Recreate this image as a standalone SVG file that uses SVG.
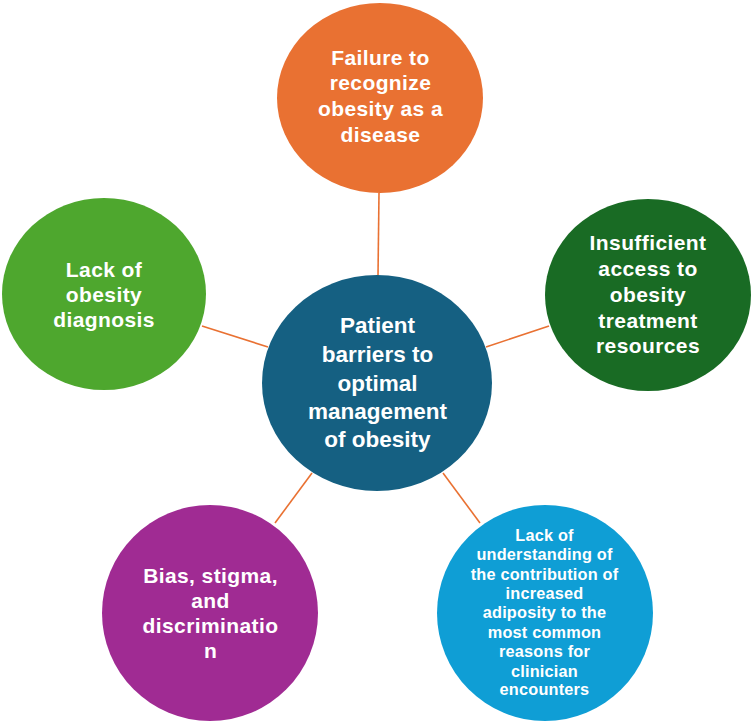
<svg xmlns="http://www.w3.org/2000/svg" width="752" height="723" viewBox="0 0 752 723">
<style>
.lbl{font-family:"Liberation Sans",Arial,sans-serif;font-weight:bold;fill:#ffffff;text-anchor:middle;font-size:21px;letter-spacing:0.4px}
.ctr{font-size:22.5px;letter-spacing:0}
.sm{font-size:16.3px;letter-spacing:0.2px}
.con{stroke:#E97132;stroke-width:1.6;fill:none}
</style>
<rect width="752" height="723" fill="#ffffff"/>
<g id="connectors">
<line class="con" x1="379" y1="193" x2="378" y2="276"/>
<line class="con" x1="202" y1="326" x2="268" y2="347"/>
<line class="con" x1="486" y1="347" x2="549" y2="326"/>
<line class="con" x1="312" y1="473" x2="275" y2="523"/>
<line class="con" x1="443" y1="473" x2="480" y2="523"/>
</g>
<g id="center">
<ellipse cx="377" cy="383" rx="115" ry="108" fill="#156082"/>
<text class="lbl ctr"><tspan x="377.5" y="333">Patient</tspan><tspan x="377.5" y="362">barriers to</tspan><tspan x="377.5" y="391">optimal</tspan><tspan x="377.5" y="419">management</tspan><tspan x="377.5" y="447">of obesity</tspan></text>
</g>
<g id="failure">
<ellipse cx="380" cy="98" rx="103" ry="95" fill="#E97132"/>
<text class="lbl"><tspan x="380.5" y="65">Failure to</tspan><tspan x="380.5" y="90">recognize</tspan><tspan x="380.5" y="116">obesity as a</tspan><tspan x="380.5" y="142">disease</tspan></text>
</g>
<g id="diagnosis">
<ellipse cx="104" cy="294" rx="102" ry="96" fill="#4EA72E"/>
<text class="lbl"><tspan x="104" y="277">Lack of</tspan><tspan x="104" y="302">obesity</tspan><tspan x="104" y="327">diagnosis</tspan></text>
</g>
<g id="access">
<ellipse cx="648" cy="295" rx="103" ry="96" fill="#196B24"/>
<text class="lbl"><tspan x="648" y="250">Insufficient</tspan><tspan x="648" y="276">access to</tspan><tspan x="648" y="302">obesity</tspan><tspan x="648" y="328">treatment</tspan><tspan x="648" y="353">resources</tspan></text>
</g>
<g id="bias">
<ellipse cx="210" cy="613" rx="108" ry="108" fill="#A02B93"/>
<text class="lbl"><tspan x="210.5" y="583">Bias, stigma,</tspan><tspan x="210.5" y="608">and</tspan><tspan x="210.5" y="633">discriminatio</tspan><tspan x="210.5" y="658">n</tspan></text>
</g>
<g id="understanding">
<ellipse cx="545" cy="613" rx="108" ry="108" fill="#0F9ED5"/>
<text class="lbl sm"><tspan x="544.5" y="541">Lack of</tspan><tspan x="544.5" y="560">understanding of</tspan><tspan x="544.5" y="580">the contribution of</tspan><tspan x="544.5" y="599">increased</tspan><tspan x="544.5" y="618">adiposity to the</tspan><tspan x="544.5" y="638">most common</tspan><tspan x="544.5" y="657">reasons for</tspan><tspan x="544.5" y="677">clinician</tspan><tspan x="544.5" y="695">encounters</tspan></text>
</g>
</svg>
